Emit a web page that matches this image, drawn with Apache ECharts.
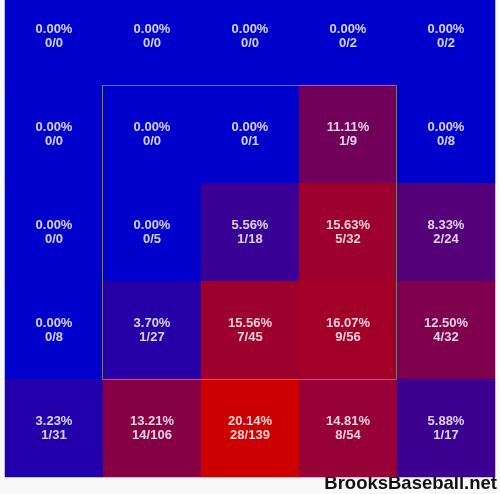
<!DOCTYPE html>
<html>
<head>
<meta charset="utf-8">
<script src="https://cdn.jsdelivr.net/npm/echarts@6/dist/echarts.min.js"></script>
<style>html,body{margin:0;padding:0;background:#f9f9f9;overflow:hidden;}#c{position:absolute;left:0;top:-13px;width:500px;height:508px;}</style>
</head>
<body>
<div id="c"></div>
<script>
// Zone columns (left to right) and rows (top to bottom)
var columns = ['c1', 'c2', 'c3', 'c4', 'c5'];
var rows = ['r1', 'r2', 'r3', 'r4', 'r5'];
// hits per cell, row by row (top to bottom)
var hits = [
  [0, 0, 0, 0, 0],
  [0, 0, 0, 1, 0],
  [0, 0, 1, 5, 2],
  [0, 1, 7, 9, 4],
  [1, 14, 28, 8, 1]
];
// totals per cell
var totals = [
  [0, 0, 0, 2, 2],
  [0, 0, 1, 9, 8],
  [0, 5, 18, 32, 24],
  [8, 27, 45, 56, 32],
  [31, 106, 139, 54, 17]
];
// strike zone box in cell indices [col0, row0, col1, row1]
var strikeZone = [[1, 1, 3, 3]];

var data = [];
var maxV = 0;
for (var r = 0; r < rows.length; r++) {
  for (var c = 0; c < columns.length; c++) {
    var pct = totals[r][c] > 0 ? hits[r][c] / totals[r][c] * 100 : 0;
    if (pct > maxV) maxV = pct;
    data.push([c, r, pct, hits[r][c], totals[r][c]]);
  }
}

var chart = echarts.init(document.getElementById('c'));
chart.setOption({
  backgroundColor: '#f9f9f9',
  animation: false,
  grid: { left: 5, right: 5, top: 0, bottom: 18 },
  xAxis: { type: 'category', data: columns, show: false },
  yAxis: { type: 'category', data: rows, inverse: true, show: false },
  visualMap: {
    show: false, min: 0, max: maxV, dimension: 2, seriesIndex: 0,
    inRange: { color: ['#0000cc', '#cc0000'] }
  },
  series: [{
    type: 'heatmap',
    data: data,
    label: {
      show: true,
      formatter: function (p) {
        return p.value[2].toFixed(2) + '%\n' + p.value[3] + '/' + p.value[4];
      },
      color: 'rgba(255,255,255,0.82)',
      fontFamily: 'Liberation Sans',
      fontWeight: 'bold',
      fontSize: 13,
      lineHeight: 14
    },
    itemStyle: { borderWidth: 0 }
  }, {
    type: 'custom',
    data: strikeZone,
    z: 10,
    renderItem: function (params, api) {
      var p0 = api.coord([api.value(0), api.value(1)]);
      var p1 = api.coord([api.value(2), api.value(3)]);
      var s = api.size([1, 1]);
      var x0 = p0[0] - s[0] / 2, y0 = p0[1] - s[1] / 2;
      var x1 = p1[0] + s[0] / 2, y1 = p1[1] + s[1] / 2;
      return {
        type: 'rect',
        shape: { x: Math.round(x0) - 0.5, y: Math.round(y0) + 0.5, width: Math.round(x1 - x0), height: Math.round(y1 - y0) },
        style: { fill: null, stroke: '#777777', lineWidth: 1 }
      };
    }
  }],
  graphic: [{
    type: 'text',
    right: 3,
    bottom: 2,
    style: {
      text: 'BrooksBaseball.net',
      font: 'bold 18.5px "Liberation Sans"',
      fill: '#111111'
    }
  }]
});
</script>
</body>
</html>
